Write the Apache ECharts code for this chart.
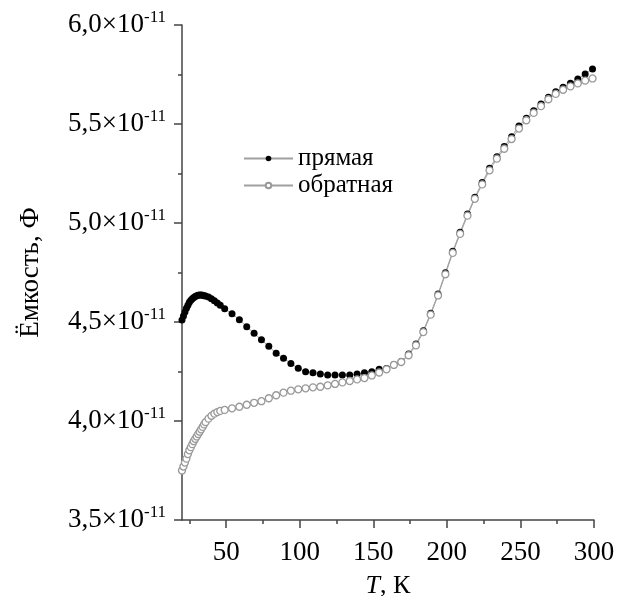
<!DOCTYPE html>
<html>
<head>
<meta charset="utf-8">
<script src="https://cdn.jsdelivr.net/npm/echarts@6/dist/echarts.min.js"></script>
<style>
	html, body { margin: 0; padding: 0; background: #fff; }
	#chart { width: 621px; height: 596px; }
</style>
</head>
<body>
<div id="chart"></div>
<script>
// температура, К
var temps = [20, 21, 22, 23, 24, 25, 26, 27, 28, 29, 30, 31, 32, 33, 34, 35, 36, 38, 40, 42, 44, 46,
	49, 54, 59, 64, 69, 74, 79, 84, 89, 94, 99, 104, 109, 114, 119, 124, 129, 134, 139, 144, 149,
	154, 159, 164, 169, 174, 179, 184, 189, 194, 199, 204, 209, 214, 219, 224, 229, 234, 239, 244,
	249, 254, 259, 264, 269, 274, 279, 284, 289, 294, 299];

// ёмкость, 10^-11 Ф
var forward = [4.51, 4.53, 4.55, 4.57, 4.585, 4.60, 4.61, 4.617, 4.624, 4.629, 4.633, 4.635, 4.636, 4.636, 4.635, 4.633, 4.631, 4.626, 4.618, 4.607, 4.596, 4.585,
	4.567, 4.542, 4.511, 4.476, 4.443, 4.41, 4.377, 4.342, 4.317, 4.291, 4.266, 4.249, 4.244, 4.237, 4.232, 4.232, 4.232, 4.232, 4.237, 4.244, 4.249,
	4.261, 4.265, 4.285, 4.30, 4.338, 4.389, 4.456, 4.544, 4.641, 4.749, 4.857, 4.953, 5.045, 5.13, 5.204, 5.276, 5.335, 5.386, 5.436,
	5.49, 5.529, 5.567, 5.601, 5.635, 5.663, 5.685, 5.706, 5.727, 5.753, 5.778];

var reverse = [3.75, 3.77, 3.79, 3.81, 3.833, 3.852, 3.868, 3.883, 3.898, 3.91, 3.922, 3.934, 3.946, 3.958, 3.97, 3.983, 3.994, 4.012, 4.026, 4.037, 4.045, 4.051,
	4.056, 4.064, 4.072, 4.082, 4.092, 4.10, 4.115, 4.13, 4.143, 4.153, 4.16, 4.165, 4.17, 4.173, 4.18, 4.187, 4.195, 4.202, 4.21, 4.217, 4.23,
	4.245, 4.261, 4.283, 4.298, 4.332, 4.382, 4.449, 4.537, 4.634, 4.741, 4.849, 4.945, 5.037, 5.122, 5.195, 5.266, 5.325, 5.375, 5.424,
	5.477, 5.519, 5.556, 5.59, 5.625, 5.652, 5.673, 5.69, 5.705, 5.719, 5.73];

var xMajorTicks = [50, 100, 150, 200, 250, 300];
var xMinorTicks = [25, 75, 125, 175, 225, 275];

function pairs(xs, ys) {
	var out = [];
	for (var i = 0; i < xs.length; i++) {
		out.push([xs[i], ys[i]]);
	}
	return out;
}

var font = 'Liberation Serif';
var axisColor = '#444';
var lineGray = '#a0a0a0';

var myChart = echarts.init(document.getElementById('chart'));

myChart.setOption({
	animation : false,
	backgroundColor : '#fff',
	grid : {
		left : 182,
		right : 27,
		top : 25,
		bottom : 76,
		outerBoundsMode : 'none',
		containLabel : false
	},
	legend : {
		left : 243,
		top : 146,
		padding : 0,
		orient : 'vertical',
		itemWidth : 49,
		itemHeight : 7,
		itemGap : 2,
		textStyle : {
			fontFamily : font,
			fontSize : 25,
			color : '#000'
		},
		data : [ 'прямая', 'обратная' ]
	},
	xAxis : [ {
		type : 'value',
		min : 20,
		max : 300,
		name : '{i|T}, К',
		nameLocation : 'middle',
		nameGap : 53,
		nameTextStyle : {
			fontFamily : font,
			fontSize : 26,
			color : '#000',
			rich : {
				i : { fontFamily : font, fontSize : 26, fontStyle : 'italic', color : '#000' }
			}
		},
		axisLine : { show : true, lineStyle : { color : axisColor, width : 1.5 } },
		axisTick : { show : true, length : 8, customValues : xMajorTicks, lineStyle : { color : axisColor, width : 1.5 } },
		axisLabel : { customValues : xMajorTicks, margin : 19, fontFamily : font, fontSize : 27, color : '#000' },
		splitLine : { show : false }
	}, {
		type : 'value',
		min : 20,
		max : 300,
		position : 'bottom',
		axisLine : { show : false },
		axisTick : { show : true, length : 4, customValues : xMinorTicks, lineStyle : { color : axisColor, width : 1.5 } },
		axisLabel : { show : false },
		splitLine : { show : false }
	} ],
	yAxis : {
		type : 'value',
		min : 3.5,
		max : 6.0,
		interval : 0.5,
		name : 'Ёмкость, Ф',
		nameLocation : 'middle',
		nameGap : 138,
		nameTextStyle : {
			fontFamily : font,
			fontSize : 27,
			color : '#000'
		},
		axisLine : { show : true, lineStyle : { color : axisColor, width : 1.5 } },
		axisTick : { show : true, length : 8, lineStyle : { color : axisColor, width : 1.5 } },
		minorTick : { show : true, splitNumber : 2, length : 4, lineStyle : { color : axisColor, width : 1.5 } },
		axisLabel : {
			margin : 16,
			formatter : function(v) {
				return '{a|' + v.toFixed(1).replace('.', ',') + '×10}{b|-11}';
			},
			rich : {
				a : { fontFamily : font, fontSize : 27, lineHeight : 32, color : '#000' },
				b : { fontFamily : font, fontSize : 17, lineHeight : 17, verticalAlign : 'top', color : '#000' }
			}
		},
		splitLine : { show : false }
	},
	series : [ {
		name : 'прямая',
		type : 'line',
		data : pairs(temps, forward),
		symbol : 'circle',
		symbolSize : 7,
		showAllSymbol : true,
		lineStyle : { color : lineGray, width : 1 },
		itemStyle : { color : '#000', borderColor : '#000', borderWidth : 0 }
	}, {
		name : 'обратная',
		type : 'line',
		data : pairs(temps, reverse),
		symbol : 'circle',
		symbolSize : 7,
		showAllSymbol : true,
		lineStyle : { color : lineGray, width : 1 },
		itemStyle : { color : '#fff', borderColor : '#999', borderWidth : 1.3 }
	} ]
});
</script>
</body>
</html>
